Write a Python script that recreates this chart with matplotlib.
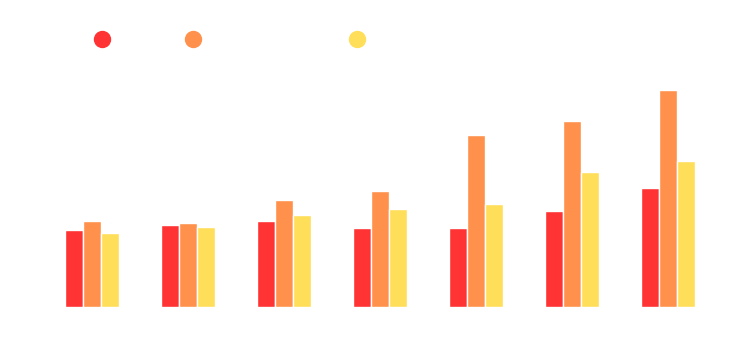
import matplotlib
matplotlib.use('Agg')
import matplotlib.pyplot as plt
from matplotlib.lines import Line2D
import numpy as np

# values (no axis text is visible, units are relative)
categories = ["1", "2", "3", "4", "5", "6", "7"]
series_names = ["Sets A", "Series B (longer)", "Series C"]
series_a = [76, 81, 85, 78, 78, 95, 118]
series_b = [85, 83, 106, 115, 171, 185, 215]
series_c = [73, 79, 91, 97, 102, 134, 145]
colors = ["#FF3333", "#FF914D", "#FFDE59"]

fig = plt.figure(figsize=(7.37, 3.52), dpi=100)
ax = fig.add_axes([44 / 737, 45 / 352, 672 / 737, 250 / 352])

x = np.arange(len(categories))
w = 0.185
for i, vals in enumerate([series_a, series_b, series_c]):
    ax.bar(x + (i - 1) * w, vals, width=w, color=colors[i],
           edgecolor="white", linewidth=1)

ax.set_xlim(-0.5, len(categories) - 0.5)
ax.set_ylim(0, 248)
ax.set_xticks(x)
ax.set_xticklabels(categories, color="white")
ax.tick_params(length=0, colors="white")
ax.set_yticks([])
for s in ax.spines.values():
    s.set_visible(False)

handles = [Line2D([], [], marker="o", linestyle="", markersize=11.5,
                  color=c) for c in colors]
leg = fig.legend(handles, series_names, loc="center left",
                 bbox_to_anchor=(76 / 737, 1 - 40 / 352), ncol=3,
                 frameon=False, handletextpad=0.4, columnspacing=1.0,
                 fontsize=10)
for t in leg.get_texts():
    t.set_color("white")

fig.savefig("out.png", dpi=100, facecolor="white")
